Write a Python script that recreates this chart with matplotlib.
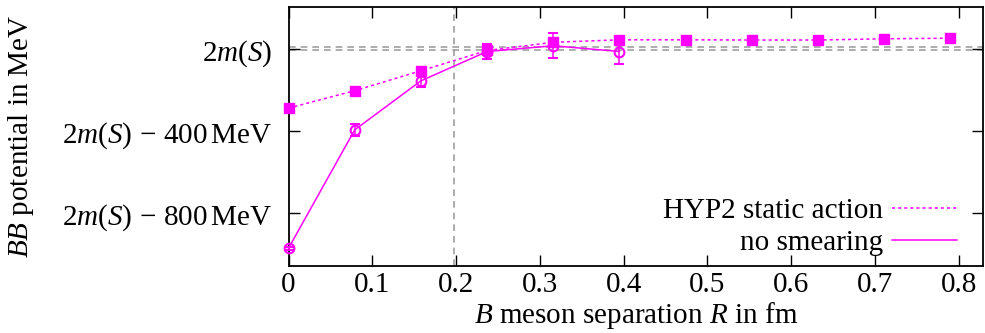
import matplotlib
matplotlib.use('Agg')
import matplotlib.pyplot as plt
from matplotlib.lines import Line2D

plt.rcParams['font.family'] = ['Liberation Serif', 'DejaVu Serif']
plt.rcParams['mathtext.fontset'] = 'custom'
plt.rcParams['mathtext.rm'] = 'Liberation Serif'
plt.rcParams['mathtext.it'] = 'Liberation Serif:italic'
plt.rcParams['font.size'] = 21

# separations in fm
r_hyp = [0.0, 0.079, 0.158, 0.237, 0.316, 0.395, 0.474, 0.553, 0.632, 0.711, 0.790]
r_nos = [0.0, 0.079, 0.158, 0.237, 0.316, 0.395]

# potential relative to 2m(S), in MeV
v_hyp = [-288, -203, -106, -7, 33, 45, 45, 44, 44, 50, 53]
v_nos = [-971, -394, -155, -12, 16, -12]
e_nos = [8, 28, 30, 36, 60, 60]

# reference lines
h_lines = [9, -7]
r_cut = 0.197

y_ticks = [0, -400, -800]
y_labels = ['$2m(S)$', r'$2m(S)\,-\,400\,\mathrm{MeV}$', r'$2m(S)\,-\,800\,\mathrm{MeV}$']
x_ticks = [0, 0.1, 0.2, 0.3, 0.4, 0.5, 0.6, 0.7, 0.8]
x_labels = ['0', '0.1', '0.2', '0.3', '0.4', '0.5', '0.6', '0.7', '0.8']

mag = '#ff00ff'

fig = plt.figure(figsize=(9.85, 3.33), dpi=100)
ax = fig.add_axes([0.2929, 0.2027, 0.7051, 0.7763])

for h in h_lines:
    ax.axhline(h, color='#a0a0a0', ls=(0, (4, 3)), lw=1.2, zorder=1)
ax.axvline(r_cut, color='#a0a0a0', ls=(0, (4, 3)), lw=1.2, zorder=1)

ax.plot(r_hyp, v_hyp, color=mag, ls=(0, (2, 2)), lw=1.1, marker='s', ms=7.5,
        mec=mag, mfc=mag, zorder=3, clip_on=False)
ax.errorbar(r_nos, v_nos, yerr=e_nos, color=mag, ls='-', lw=1.1, marker='o', ms=7,
            mfc='none', mec=mag, mew=1.5, capsize=3.5, elinewidth=1.1,
            zorder=4, clip_on=False)

ax.set_xlim(0, 0.829)
ax.set_ylim(-1055, 205)
ax.set_xticks(x_ticks)
ax.set_xticklabels(x_labels)
ax.set_yticks(y_ticks)
ax.set_yticklabels(y_labels)
ax.tick_params(direction='in', length=8, width=1, top=True, right=True)
ax.tick_params(axis='x', pad=5)
ax.tick_params(axis='y', pad=11.5)
for s in ax.spines.values():
    s.set_linewidth(1.3)

ax.set_xlabel('$B$ meson separation $R$ in fm', labelpad=1)
ax.set_ylabel('$BB$ potential in MeV')
ax.yaxis.set_label_coords(-0.363, 0.5)

handles = [Line2D([], [], color=mag, ls=(0, (2, 2)), lw=1.1),
           Line2D([], [], color=mag, ls='-', lw=1.1)]
ax.legend(handles, ['HYP2 static action', 'no smearing'], loc='lower right',
          bbox_to_anchor=(0.963, 0.035), markerfirst=False, frameon=False,
          handlelength=2.25, handletextpad=0.3, labelspacing=0.2,
          borderpad=0, borderaxespad=0)

fig.savefig('out.png', dpi=100)
